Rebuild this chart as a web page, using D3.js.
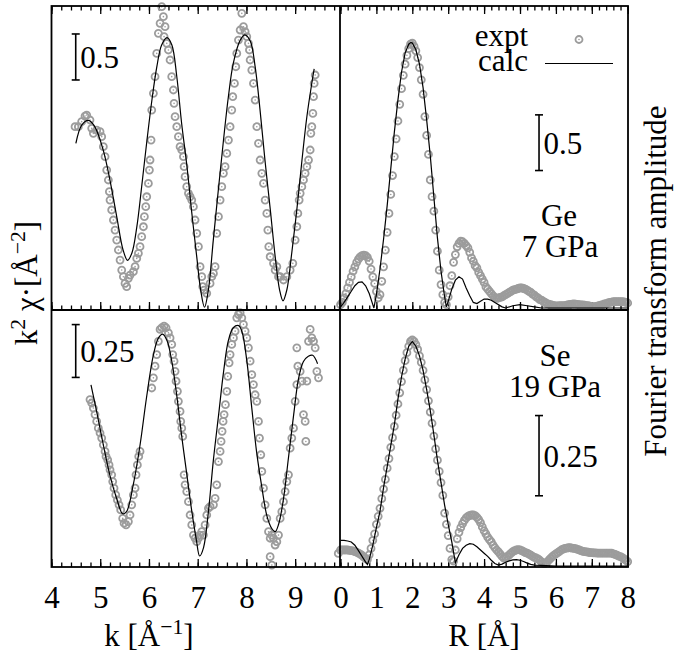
<!DOCTYPE html>
<html><head><meta charset="utf-8">
<script src="https://cdn.jsdelivr.net/npm/d3@7"></script>
<style>
body{margin:0;background:#fff}
svg{display:block}
text{font-family:"Liberation Serif","Times New Roman",serif;fill:#000}
</style>
</head><body>
<svg id="c" width="675" height="663"></svg>
<script>
// ---------------- data ----------------
const kTickLabels = [4,5,6,7,8,9];
const rTickLabels = [0,1,2,3,4,5,6,7,8];

// Ge 7 GPa, k-space (k, k^2 chi)
const geKCalc = [[4.50,0.18],[4.62,0.38],[4.76,0.43],[4.89,0.36],[5.06,0.11],[5.20,-0.22],[5.34,-0.62],[5.47,-0.98],[5.56,-1.09],[5.65,-1.01],[5.75,-0.73],[5.85,-0.29],[5.96,0.22],[6.06,0.65],[6.16,1.01],[6.26,1.25],[6.37,1.33],[6.47,1.25],[6.57,0.91],[6.67,0.40],[6.78,-0.07],[6.88,-0.58],[6.98,-1.05],[7.06,-1.41],[7.14,-1.60],[7.22,-1.41],[7.32,-0.87],[7.43,-0.29],[7.53,0.22],[7.63,0.69],[7.73,1.05],[7.87,1.30],[7.97,1.36],[8.08,1.29],[8.18,1.01],[8.28,0.54],[8.38,0.0],[8.49,-0.54],[8.59,-1.05],[8.68,-1.41],[8.75,-1.53],[8.83,-1.41],[8.93,-1.01],[9.04,-0.51],[9.14,0.0],[9.24,0.47],[9.34,0.83],[9.39,0.99]];
const geKExpt = [[4.483,0.362],[4.551,0.362],[4.619,0.417],[4.688,0.478],[4.722,0.489],[4.790,0.435],[4.825,0.344],[4.859,0.290],[4.927,0.326],[4.996,0.308],[5.030,0.254],[5.064,0.145],[5.099,0.036],[5.133,-0.109],[5.167,-0.217],[5.188,-0.344],[5.201,-0.435],[5.235,-0.543],[5.270,-0.652],[5.304,-0.761],[5.338,-0.870],[5.372,-0.978],[5.407,-1.087],[5.441,-1.196],[5.475,-1.268],[5.509,-1.341],[5.543,-1.377],[5.578,-1.286],[5.612,-1.250],[5.680,-1.214],[5.715,-1.159],[5.749,-1.069],[5.783,-1.014],[5.817,-0.942],[5.851,-0.833],[5.886,-0.725],[5.906,-0.616],[5.934,-0.507],[5.954,-0.399],[5.988,-0.254],[6.009,-0.109],[6.022,0.0],[6.043,0.217],[6.057,0.543],[6.091,0.725],[6.125,0.906],[6.159,1.159],[6.193,1.377],[6.228,1.486],[6.262,1.667],[6.296,1.558],[6.330,1.449],[6.310,1.341],[6.365,1.268],[6.399,1.196],[6.433,1.087],[6.467,0.906],[6.501,0.761],[6.515,0.616],[6.536,0.471],[6.570,0.362],[6.604,0.254],[6.638,0.145],[6.673,0.109],[6.707,0.036],[6.721,-0.072],[6.741,-0.181],[6.775,-0.290],[6.810,-0.362],[6.844,-0.399],[6.878,-0.435],[6.912,-0.507],[6.946,-0.652],[6.981,-0.797],[7.015,-0.942],[7.049,-1.159],[7.083,-1.268],[7.104,-1.377],[7.131,-1.413],[7.186,-1.449],[7.254,-1.341],[7.289,-1.268],[7.323,-1.232],[7.357,-1.159],[7.391,-0.797],[7.426,-0.616],[7.460,-0.435],[7.494,-0.290],[7.528,-0.145],[7.562,-0.072],[7.597,0.072],[7.631,0.217],[7.665,0.362],[7.699,0.543],[7.720,0.688],[7.754,0.833],[7.782,1.014],[7.802,1.159],[7.836,1.304],[7.871,1.413],[7.905,1.594],[7.939,1.449],[7.973,1.395],[8.007,1.341],[8.041,1.268],[8.062,1.196],[8.076,1.087],[8.110,0.978],[8.144,0.833],[8.179,0.652],[8.213,0.362],[8.247,0.181],[8.281,0.0],[8.316,-0.145],[8.350,-0.254],[8.384,-0.435],[8.418,-0.580],[8.439,-0.761],[8.459,-0.942],[8.487,-1.051],[8.555,-1.123],[8.589,-1.196],[8.624,-1.159],[8.658,-1.268],[8.692,-1.268],[8.760,-1.304],[8.829,-1.268],[8.897,-1.196],[8.952,-1.123],[9.000,-0.870],[9.034,-0.725],[9.055,-0.580],[9.082,-0.435],[9.103,-0.362],[9.137,-0.290],[9.171,-0.217],[9.205,-0.145],[9.240,-0.072],[9.274,0.0],[9.308,0.109],[9.322,0.290],[9.342,0.362],[9.363,0.507],[9.377,0.688],[9.390,0.833],[9.411,0.924]];

// Se 19 GPa, k-space
const seKCalc = [[4.81,0.26],[4.93,0.13],[5.06,-0.02],[5.20,-0.17],[5.34,-0.28],[5.46,-0.35],[5.54,-0.34],[5.68,-0.21],[5.82,-0.02],[5.95,0.20],[6.09,0.40],[6.19,0.48],[6.28,0.50],[6.37,0.47],[6.47,0.37],[6.57,0.21],[6.67,0.02],[6.78,-0.17],[6.88,-0.34],[6.97,-0.47],[7.04,-0.55],[7.12,-0.51],[7.22,-0.34],[7.32,-0.10],[7.43,0.12],[7.53,0.32],[7.63,0.47],[7.73,0.53],[7.84,0.54],[7.91,0.51],[8.01,0.37],[8.11,0.15],[8.21,-0.06],[8.32,-0.23],[8.42,-0.36],[8.52,-0.42],[8.59,-0.435],[8.66,-0.40],[8.76,-0.28],[8.86,-0.09],[8.97,0.12],[9.07,0.29],[9.17,0.37],[9.27,0.395],[9.36,0.40],[9.46,0.36]];
const seKExpt = [[4.790,0.190],[4.825,0.174],[4.859,0.150],[4.893,0.119],[4.927,0.087],[4.961,0.055],[4.996,0.032],[5.030,0.008],[5.064,-0.024],[5.099,-0.055],[5.119,-0.079],[5.153,-0.095],[5.181,-0.119],[5.201,-0.142],[5.235,-0.166],[5.256,-0.198],[5.283,-0.229],[5.318,-0.261],[5.352,-0.285],[5.386,-0.308],[5.420,-0.332],[5.461,-0.372],[5.489,-0.395],[5.530,-0.403],[5.578,-0.387],[5.612,-0.356],[5.646,-0.308],[5.680,-0.261],[5.715,-0.229],[5.735,-0.166],[5.762,-0.119],[5.790,-0.079],[5.817,-0.055],[6.057,0.245],[6.091,0.293],[6.125,0.348],[6.159,0.403],[6.193,0.466],[6.228,0.522],[6.262,0.530],[6.310,0.538],[6.351,0.530],[6.399,0.506],[6.433,0.482],[6.467,0.451],[6.488,0.403],[6.515,0.372],[6.536,0.324],[6.556,0.277],[6.584,0.229],[6.604,0.182],[6.638,0.134],[6.652,0.087],[6.673,0.055],[6.693,0.016],[6.721,-0.166],[6.741,-0.213],[6.775,-0.245],[6.810,-0.293],[6.844,-0.356],[6.878,-0.403],[6.912,-0.451],[6.946,-0.466],[6.981,-0.482],[7.015,-0.466],[7.049,-0.451],[7.083,-0.435],[7.117,-0.451],[7.152,-0.403],[7.186,-0.356],[7.220,-0.324],[7.254,-0.316],[7.323,-0.308],[7.357,-0.277],[7.391,-0.213],[7.426,-0.103],[7.460,-0.055],[7.480,-0.008],[7.501,0.040],[7.521,0.087],[7.542,0.119],[7.569,0.166],[7.597,0.229],[7.617,0.300],[7.645,0.364],[7.665,0.403],[7.699,0.451],[7.734,0.482],[7.768,0.514],[7.802,0.577],[7.836,0.593],[7.871,0.601],[7.905,0.577],[7.939,0.546],[7.973,0.514],[8.007,0.482],[8.041,0.435],[8.076,0.372],[8.110,0.308],[8.144,0.261],[8.179,0.213],[8.213,0.182],[8.247,0.087],[8.268,0.008],[8.295,-0.071],[8.316,-0.150],[8.350,-0.229],[8.384,-0.308],[8.418,-0.372],[8.453,-0.435],[8.487,-0.466],[8.521,-0.451],[8.555,-0.466],[8.589,-0.498],[8.624,-0.482],[8.487,-0.553],[8.521,-0.593],[8.658,-0.451],[8.692,-0.372],[8.726,-0.340],[8.760,-0.293],[8.795,-0.245],[8.829,-0.198],[8.863,-0.166],[8.897,-0.040],[8.931,0.008],[8.966,0.055],[9.000,0.182],[9.034,0.261],[9.055,0.348],[9.034,0.435],[9.103,0.324],[9.137,0.277],[9.171,0.119],[9.205,0.087],[9.219,-0.008],[9.240,0.277],[9.274,0.466],[9.308,0.522],[9.342,0.482],[9.377,0.466],[9.411,0.435],[9.445,0.324],[9.479,0.293],[9.885,-0.538]];

// Fourier transforms: experimental values sampled every ftStep from R = 0
const ftStep = 0.05;
const geRExpt = [0.03,0.05,0.09,0.13,0.18,0.23,0.28,0.33,0.37,0.41,0.44,0.46,0.47,0.475,0.47,0.455,0.42,0.35,0.28,0.22,
0.15,0.09,0.12,0.24,0.37,0.52,0.68,0.85,1.02,1.19,1.36,1.52,1.68,1.83,1.97,2.09,2.19,2.27,2.33,2.37,
2.38,2.35,2.31,2.25,2.16,2.05,1.92,1.72,1.55,1.38,1.15,1.00,0.87,0.70,0.51,0.34,0.21,0.12,0.05,0.03,
0.10,0.20,0.29,0.41,0.48,0.55,0.58,0.60,0.595,0.58,0.56,0.54,0.50,0.45,0.42,0.38,0.36,0.32,0.29,0.26,
0.23,0.19,0.17,0.15,0.13,0.11,0.095,0.087,0.09,0.095,0.10,0.11,0.12,0.13,0.14,0.15,0.16,0.165,0.17,0.175,
0.18,0.18,0.175,0.17,0.16,0.15,0.14,0.125,0.115,0.10,0.09,0.075,0.07,0.06,0.05,0.04,0.035,0.03,0.025,0.02,
0.018,0.018,0.02,0.02,0.02,0.022,0.025,0.03,0.033,0.035,0.036,0.035,0.033,0.03,0.028,0.027,0.025,0.022,0.02,0.016,
0.013,0.012,0.013,0.016,0.02,0.025,0.03,0.036,0.04,0.045,0.05,0.053,0.056,0.057,0.058,0.058,0.057,0.056,0.055,0.05,
0.045];
const seRExpt = [0.05,0.05,0.05,0.05,0.05,0.049,0.048,0.047,0.045,0.043,0.04,0.037,0.033,0.028,0.024,0.02,0.035,0.055,0.08,0.10,
0.13,0.155,0.18,0.21,0.24,0.27,0.305,0.335,0.37,0.40,0.435,0.47,0.505,0.54,0.575,0.61,0.64,0.665,0.685,0.70,
0.705,0.70,0.69,0.675,0.655,0.635,0.61,0.58,0.55,0.515,0.48,0.445,0.405,0.365,0.33,0.295,0.26,0.22,0.165,0.13,
0.095,0.055,0.02,0.015,0.05,0.085,0.105,0.12,0.132,0.142,0.15,0.155,0.158,0.159,0.159,0.157,0.152,0.145,0.135,0.122,
0.11,0.10,0.09,0.082,0.075,0.065,0.057,0.05,0.044,0.037,0.03,0.025,0.026,0.03,0.035,0.04,0.045,0.048,0.05,0.051,
0.05,0.048,0.045,0.042,0.04,0.037,0.034,0.03,0.027,0.025,0.022,0.018,0.013,0.009,0.008,0.012,0.018,0.024,0.029,0.034,
0.038,0.042,0.046,0.05,0.053,0.055,0.056,0.057,0.057,0.056,0.055,0.054,0.052,0.05,0.048,0.046,0.045,0.044,0.043,0.042,
0.042,0.041,0.041,0.04,0.04,0.04,0.04,0.04,0.04,0.04,0.04,0.04,0.038,0.036,0.034,0.031,0.029,0.026,0.022,0.018,
0.014];
const geRCalc = [[0,0.01],[0.1,0.05],[0.2,0.10],[0.3,0.15],[0.4,0.20],[0.5,0.23],[0.6,0.235],[0.7,0.20],[0.8,0.13],[0.9,0.03],[0.93,0.0],[1.0,0.12],[1.1,0.35],[1.2,0.62],[1.3,0.92],[1.4,1.25],[1.5,1.58],[1.6,1.87],[1.7,2.12],[1.8,2.29],[1.9,2.37],[1.96,2.385],[2.0,2.38],[2.1,2.32],[2.2,2.19],[2.3,1.98],[2.4,1.69],[2.5,1.37],[2.6,1.00],[2.7,0.63],[2.8,0.33],[2.9,0.10],[2.95,0.01],[3.0,0.06],[3.1,0.17],[3.2,0.25],[3.3,0.28],[3.4,0.26],[3.5,0.18],[3.6,0.11],[3.7,0.05],[3.8,0.04],[3.9,0.06],[4.0,0.08],[4.1,0.08],[4.2,0.07],[4.3,0.05],[4.5,0.01],[4.6,0.0],[4.8,0.02],[5.0,0.03],[5.2,0.02],[5.4,0.01],[5.6,0.0],[6.0,0.0],[8.0,0.0]];
const seRCalc = [[0,0.080],[0.1,0.080],[0.2,0.078],[0.3,0.075],[0.4,0.065],[0.5,0.048],[0.6,0.030],[0.7,0.012],[0.75,0.005],[0.8,0.02],[0.9,0.065],[1.0,0.12],[1.1,0.17],[1.2,0.245],[1.3,0.31],[1.4,0.375],[1.5,0.44],[1.6,0.52],[1.7,0.59],[1.8,0.645],[1.9,0.685],[2.0,0.70],[2.1,0.685],[2.2,0.655],[2.3,0.61],[2.4,0.55],[2.5,0.485],[2.6,0.41],[2.7,0.33],[2.8,0.26],[2.9,0.19],[3.0,0.13],[3.1,0.075],[3.2,0.01],[3.3,0.035],[3.4,0.055],[3.5,0.065],[3.6,0.07],[3.7,0.068],[3.8,0.06],[3.9,0.05],[4.0,0.04],[4.1,0.03],[4.2,0.018],[4.3,0.008],[4.4,0.003],[4.5,0.006],[4.6,0.012],[4.7,0.016],[4.8,0.019],[4.9,0.02],[5.0,0.018],[5.1,0.014],[5.2,0.009],[5.3,0.005],[5.4,0.003],[5.6,0.002],[6.0,0.0],[8.0,0.0]];

// ---------------- drawing ----------------
const svg = d3.select("#c");
const GREY = "#9c9c9c";
const FS = 31;
const PR = 3.5, PW = 1.8;

const X0 = 51.5, XM = 340, X1 = 628, Y0 = 6, YM = 310, Y1 = 567;
const kx = d3.scaleLinear([4, 9.92], [X0, XM]);
const rx = d3.scaleLinear([0, 8], [340.5, 627.7]);
const yTL = d3.scaleLinear([-1.63, 1.674], [YM, Y0]);
const yBL = d3.scaleLinear([-0.602, 0.614], [Y1, YM]);
const yTR = d3.scaleLinear([-0.018, 2.713], [YM, Y0]);
const yBR = d3.scaleLinear([-0.003, 0.798], [Y1, YM]);

function ticks(x, y, dir, minor){
  const mk = () => (dir === "top" ? d3.axisTop(x) : d3.axisBottom(x));
  const gMin = svg.append("g").attr("transform", `translate(0,${y})`)
    .call(mk().tickValues(x.ticks(minor)).tickSize(-4.5).tickFormat(""));
  const gMaj = svg.append("g").attr("transform", `translate(0,${y})`)
    .call(mk().tickValues(x.ticks(minor/5)).tickSize(-8).tickFormat(""));
  [gMin,gMaj].forEach(g=>{g.select(".domain").remove(); g.selectAll("line").attr("stroke","#000").attr("stroke-width",1.3);});
}
// ticks: top panels top & bottom edges, bottom panels bottom edge
ticks(kx, Y0, "top", 30); ticks(kx, YM, "bottom", 30); ticks(kx, Y1, "bottom", 30);
ticks(rx, Y0, "top", 40); ticks(rx, YM, "bottom", 40); ticks(rx, Y1, "bottom", 40);

// calc lines
function calcLine(data, x, y, curve){
  svg.append("path").datum(data)
    .attr("d", d3.line().x(d=>x(d[0])).y(d=>y(d[1])).curve(curve))
    .attr("fill","none").attr("stroke","#000").attr("stroke-width",1.2);
}
// expt points
function exptPts(data, x, y){
  const g = svg.append("g");
  const s = g.selectAll("g").data(data).join("g")
    .attr("transform", d=>`translate(${x(d[0])},${y(d[1])})`);
  s.append("circle").attr("r",PR).attr("fill","none").attr("stroke",GREY).attr("stroke-width",PW);
  s.append("circle").attr("r",0.8).attr("fill",GREY);
}
const ftPairs = arr => arr.map((v,i)=>[i*ftStep, v]);

exptPts(geKExpt, kx, yTL);
exptPts(seKExpt, kx, yBL);
exptPts(ftPairs(geRExpt), rx, yTR);
exptPts(ftPairs(seRExpt), rx, yBR);
calcLine(geKCalc, kx, yTL, d3.curveCatmullRom);
calcLine(seKCalc, kx, yBL, d3.curveCatmullRom);
calcLine(geRCalc, rx, yTR, d3.curveLinear);
calcLine(seRCalc, rx, yBR, d3.curveLinear);

// frames
const fr = svg.append("g").attr("fill","none").attr("stroke","#000").attr("stroke-width",1.8);
fr.append("rect").attr("x",X0).attr("y",Y0).attr("width",X1-X0).attr("height",Y1-Y0);
fr.append("line").attr("x1",XM).attr("x2",XM).attr("y1",Y0).attr("y2",Y1);
fr.append("line").attr("x1",X0).attr("x2",X1).attr("y1",YM).attr("y2",YM);

// tick labels
function tickLabels(x, vals){
  const g = svg.append("g").attr("transform",`translate(0,${Y1})`)
    .call(d3.axisBottom(x).tickValues(vals).tickSize(0).tickPadding(0).tickFormat(d3.format("d")));
  g.select(".domain").remove();
  g.selectAll("text").attr("font-size",FS).attr("font-family",'"Liberation Serif",serif')
    .attr("fill","#000").attr("dy",null).attr("y",41);
}
tickLabels(kx, kTickLabels);
tickLabels(rx, rTickLabels);

// rich text helper
function rich(parent, x, y, parts, opts={}){
  const t = parent.append("text").attr("x",x).attr("y",y).attr("font-size",FS)
    .attr("text-anchor", opts.anchor || "start");
  if (opts.rotate) t.attr("transform",`rotate(${opts.rotate},${x},${y})`);
  parts.forEach(p=>{
    if (typeof p === "string") t.append("tspan").text(p);
    else t.append("tspan").attr("font-size",p.big?FS:FS*0.7).attr("dy",p.dy).text(p.t);
  });
  return t;
}
// axis titles
rich(svg, kx(6.0), 646, ["k [Å",{t:"−1",dy:-12},{t:"]",dy:12,big:true}], {anchor:"middle"});
rich(svg, rx(4.0), 646, ["R [Å]"], {anchor:"middle"});
rich(svg, 37, 283, ["k",{t:"2",dy:-12},{t:" χ·[Å",dy:12,big:true},{t:"−2",dy:-12},{t:"]",dy:12,big:true}], {anchor:"middle", rotate:-90});
rich(svg, 666, 281, ["Fourier transform amplitude"], {anchor:"middle", rotate:-90});

// scale bars
function scaleBar(x, yScale, v0, v1, label){
  const g = svg.append("g");
  const ya = yScale(v0), yb = yScale(v1);
  g.append("line").attr("x1",x).attr("x2",x).attr("y1",ya).attr("y2",yb).attr("stroke","#000").attr("stroke-width",1.6);
  [ya,yb].forEach(yy=>g.append("line").attr("x1",x-4).attr("x2",x+4).attr("y1",yy).attr("y2",yy).attr("stroke","#000").attr("stroke-width",1.6));
  g.append("text").attr("x",x+4.5).attr("y",(ya+yb)/2+11).attr("font-size",FS).text(label);
}
scaleBar(kx(4.497), yTL, 0.87, 1.37, "0.5");
scaleBar(kx(4.497), yBL, 0.295, 0.545, "0.25");
scaleBar(rx(5.53), yTR, 1.235, 1.735, "0.5");
scaleBar(rx(5.53), yBR, 0.219, 0.469, "0.25");

// sample labels
svg.append("text").attr("x",559).attr("y",226).attr("text-anchor","middle").attr("font-size",FS).text("Ge");
svg.append("text").attr("x",560).attr("y",257).attr("text-anchor","middle").attr("font-size",FS).text("7 GPa");
svg.append("text").attr("x",555).attr("y",366).attr("text-anchor","middle").attr("font-size",FS).text("Se");
svg.append("text").attr("x",555).attr("y",397).attr("text-anchor","middle").attr("font-size",FS).text("19 GPa");

// legend
svg.append("text").attr("x",528).attr("y",46).attr("text-anchor","end").attr("font-size",FS).text("expt");
svg.append("text").attr("x",528).attr("y",71).attr("text-anchor","end").attr("font-size",FS).text("calc");
const lg = svg.append("g").attr("transform","translate(579,39.5)");
lg.append("circle").attr("r",PR).attr("fill","none").attr("stroke",GREY).attr("stroke-width",PW);
lg.append("circle").attr("r",0.8).attr("fill",GREY);
svg.append("line").attr("x1",545).attr("x2",613).attr("y1",63.5).attr("y2",63.5).attr("stroke","#000").attr("stroke-width",1.2);
</script>
</body></html>
